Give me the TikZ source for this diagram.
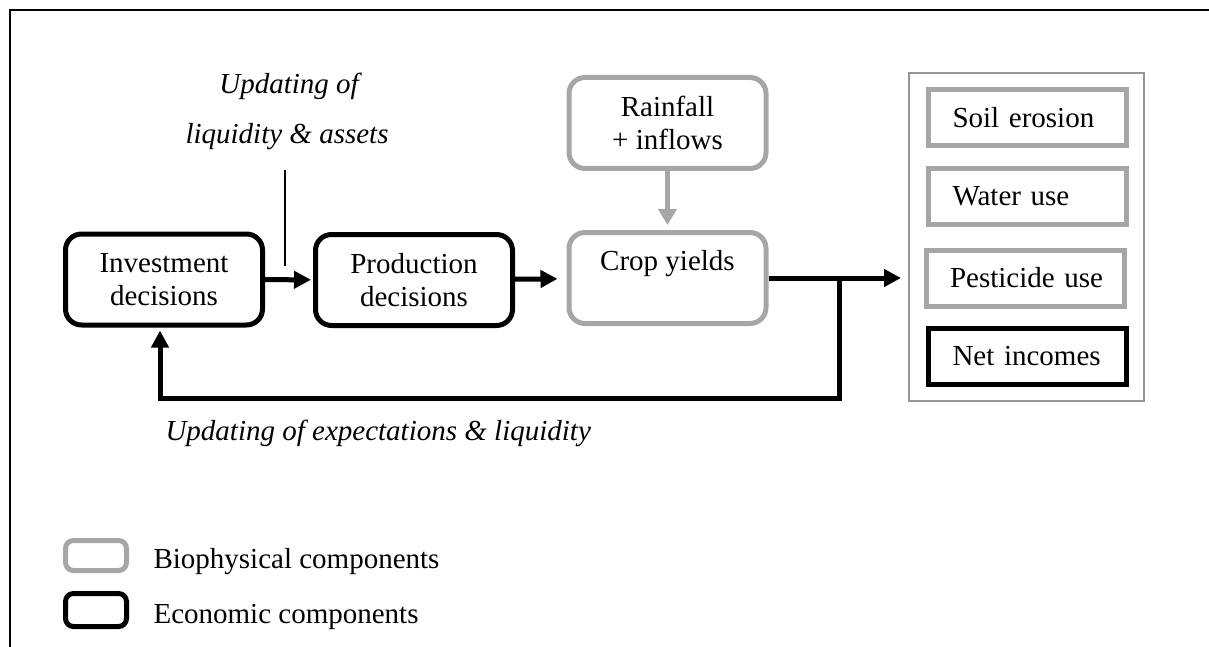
\documentclass[tikz,border=0pt]{standalone}
\usepackage{fontspec}
\setmainfont{Liberation Serif}
\usetikzlibrary{arrows.meta}
\definecolor{biogray}{RGB}{166,166,166}
\definecolor{boxgray}{RGB}{150,150,150}
\begin{document}
\begin{tikzpicture}[x=1pt,y=-1pt,font=\fontsize{29}{33}\selectfont]
\tikzstyle{econ}=[rectangle,rounded corners=16pt,draw=black,line width=5pt,minimum width=197pt,minimum height=91pt,align=center,fill=white]
\tikzstyle{bio}=[econ,draw=biogray]
\tikzstyle{indic}=[rectangle,draw=#1,line width=5pt,text width=150pt,inner xsep=24pt,minimum height=56pt,align=left]
\tikzstyle{legbox}=[rectangle,rounded corners=8pt,draw=#1,line width=5pt,minimum width=61pt]
\tikzstyle{flow}=[line width=5pt,-{Triangle[length=17pt,width=17pt]}]
\tikzstyle{bioflow}=[line width=5pt,draw=biogray,-{Triangle[length=16pt,width=18pt]}]
\tikzstyle{note}=[font=\fontsize{29}{33}\selectfont\itshape]
\useasboundingbox (0,0) rectangle (1209,647);
\draw[line width=2.2pt] (10,647) -- (10,10) -- (1209,10);

\node[econ](inv) at (164,279.5) {Investment\\decisions};
\node[econ](prod) at (414,280) {Production\\decisions};
\node[bio](crop) at (667.5,278) {Crop yields\\[3pt]\mbox{}};
\node[bio](rain) at (667.5,123) {Rainfall\\+ inflows};

\node[rectangle,draw=boxgray,line width=2pt,minimum width=235pt,minimum height=328pt](ind) at (1026.5,237) {};
\node[indic=biogray](soil) at (1027.5,117.5) {Soil~erosion};
\node[indic=biogray](water) at (1027.5,196.5) {Water~use};
\node[indic=biogray](pest) at (1025,278) {Pesticide~use};
\node[indic=black](net) at (1027.5,356.5) {Net~incomes};

\node[note,anchor=base](upd1) at (289,94) {Updating of};
\node[note,anchor=base](upd2) at (287,144) {liquidity \& assets};
\node[note,anchor=base west](upd3) at (162,440) {Updating of expectations \& liquidity};

\node[legbox=biogray,minimum height=30pt](legbio) at (96,555.5) {};
\node[legbox=black,minimum height=33pt](legeco) at (96,610) {};
\node[anchor=base west](txtbio) at (150,568) {Biophysical components};
\node[anchor=base west](txteco) at (150,623) {Economic components};

\coordinate (tktop) at (285,170);
\coordinate (tkbot) at (285,266);
\coordinate (br) at (839,279);
\coordinate (fb) at (160,398);

\draw[line width=1.5pt] (tktop) -- (tkbot);
\draw[flow,shorten >=2pt] (inv) -- (prod);
\draw[flow,shorten >=9pt] (prod) -- (crop);
\draw[bioflow,shorten >=5pt] (rain) -- (crop);
\draw[flow,shorten >=7pt] (crop.east) -- (crop.east -| ind.west);
\draw[flow,shorten >=3pt] (br) |- (fb) -- (fb |- inv.south);
\end{tikzpicture}
\end{document}
